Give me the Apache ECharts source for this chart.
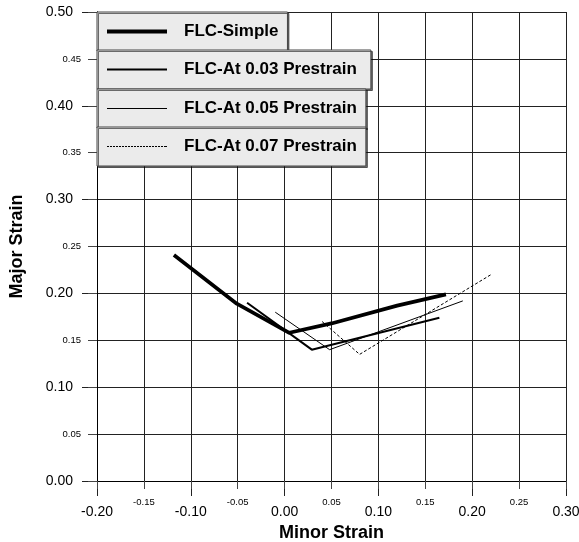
<!DOCTYPE html>
<html>
<head>
<meta charset="utf-8">
<script src="https://cdn.jsdelivr.net/npm/echarts@6/dist/echarts.min.js"></script>
<style>
html,body{margin:0;padding:0;background:#fff;}
#c{width:579px;height:542px;}
</style>
</head>
<body>
<div id="c"></div>
<script>
// ---- data ----
var seriesNames = ['FLC-Simple', 'FLC-At 0.03 Prestrain', 'FLC-At 0.05 Prestrain', 'FLC-At 0.07 Prestrain'];
var flcSimple = [[-0.118, 0.241], [-0.051, 0.189], [0.005, 0.158], [0.05, 0.168], [0.12, 0.187], [0.172, 0.199]];
var flc003 = [[-0.040, 0.190], [0.029, 0.140], [0.165, 0.174]];
var flc005 = [[-0.010, 0.180], [0.048, 0.140], [0.190, 0.192]];
var flc007 = [[0.040, 0.170], [0.080, 0.135], [0.220, 0.220]];
var xMin = -0.20, xMax = 0.30, yMin = 0.00, yMax = 0.50;
var majorStep = 0.10, minorStep = 0.05;
var xTitle = 'Minor Strain', yTitle = 'Major Strain';

var FONT = 'Arial, "Liberation Sans", sans-serif';
var lineColor = '#222';
function isMajor(v) { return Math.abs(Math.round(v * 100)) % 10 === 0; }
function fmtMajor(v) { return v.toFixed(2); }
function fmtMinor(v) { return isMajor(v) ? '' : v.toFixed(2); }

var widths = [3.7, 2, 1, 1];
var types = ['solid', 'solid', 'solid', [3, 2]];
var datas = [flcSimple, flc003, flc005, flc007];

var series = seriesNames.map(function (n, i) {
  return {
    name: n, type: 'line', data: datas[i], symbol: 'none', xAxisIndex: 0, yAxisIndex: 0,
    lineStyle: { color: '#000', width: widths[i], type: types[i] },
    itemStyle: { color: '#000' }, z: 3
  };
});

// legend icons: rect of the line thickness, dashed path for the last one
var dashPath = 'path://';
for (var d = 0; d < 20; d++) dashPath += 'M' + (d * 3) + ',0h2v1h-2z';
dashPath += 'M59,0h1v1h-1z';
var legendIcons = ['rect', 'rect', 'rect', dashPath];
var legendIconH = [4, 2, 1, 1];
var legendTops = [12, 50, 89, 127];
var legendRightPad = [9, 14, 9, 9];
var legends = seriesNames.map(function (n, i) {
  return {
    data: [{ name: n, icon: legendIcons[i] }], left: 97, top: legendTops[i], orient: 'horizontal',
    itemWidth: 60, itemHeight: legendIconH[i],
    padding: [11, legendRightPad[i], 11, 10],
    backgroundColor: '#ebebeb', borderColor: '#444', borderWidth: 1,
    shadowColor: 'rgba(0,0,0,0.55)', shadowOffsetX: 1.5, shadowOffsetY: 1.5, shadowBlur: 0,
    selectedMode: false,
    itemStyle: { color: '#000', borderWidth: 0 },
    textStyle: { fontFamily: FONT, fontWeight: 'bold', fontSize: 17, color: '#000', padding: [0, 0, 0, 12] },
    z: 10
  };
});

function valAxis(base, extra) {
  var o = {
    type: 'value', scale: false,
    axisLine: { show: true, onZero: false, lineStyle: { color: '#000', width: 1 } },
    splitLine: { show: true, lineStyle: { color: lineColor, width: 1 } },
    axisTick: { show: true, inside: false, lineStyle: { color: '#222', width: 1 } },
    axisLabel: { fontFamily: FONT, color: '#000' }
  };
  for (var k in base) o[k] = base[k];
  for (var k2 in extra) {
    if (typeof extra[k2] === 'object' && o[k2] && !Array.isArray(extra[k2])) {
      for (var k3 in extra[k2]) o[k2][k3] = extra[k2][k3];
    } else o[k2] = extra[k2];
  }
  return o;
}

var option = {
  animation: false,
  backgroundColor: '#fff',
  grid: { left: 97, right: 13, top: 12, bottom: 61, containLabel: false, outerBoundsMode: 'none' },
  legend: legends,
  xAxis: [
    valAxis({ min: xMin, max: xMax, interval: majorStep, position: 'bottom' }, {
      name: xTitle, nameLocation: 'middle', nameGap: 42,
      nameTextStyle: { fontFamily: FONT, fontWeight: 'bold', fontSize: 18, color: '#000' },
      axisTick: { length: 15, lineStyle: { color: '#222' } },
      axisLabel: { fontSize: 14, margin: 24.5, formatter: fmtMajor, fontFamily: FONT, color: '#000' }
    }),
    valAxis({ min: xMin, max: xMax, interval: minorStep, position: 'bottom' }, {
      axisTick: { length: 8, lineStyle: { color: '#444' } },
      axisLabel: { fontSize: 9.5, margin: 16, formatter: fmtMinor, fontFamily: FONT, color: '#000' }
    })
  ],
  yAxis: [
    valAxis({ min: yMin, max: yMax, interval: majorStep, position: 'left' }, {
      name: yTitle, nameLocation: 'middle', nameGap: 71,
      nameTextStyle: { fontFamily: FONT, fontWeight: 'bold', fontSize: 18, color: '#000' },
      axisTick: { length: 15, lineStyle: { color: '#222' } },
      axisLabel: { fontSize: 14, margin: 24, formatter: fmtMajor, fontFamily: FONT, color: '#000' }
    }),
    valAxis({ min: yMin, max: yMax, interval: minorStep, position: 'left' }, {
      axisTick: { length: 9, lineStyle: { color: '#444' } },
      axisLabel: { fontSize: 9.5, margin: 16, formatter: fmtMinor, fontFamily: FONT, color: '#000' }
    })
  ],
  series: series
};

var chart = echarts.init(document.getElementById('c'), null, { renderer: 'canvas' });
chart.setOption(option);
</script>
</body>
</html>
